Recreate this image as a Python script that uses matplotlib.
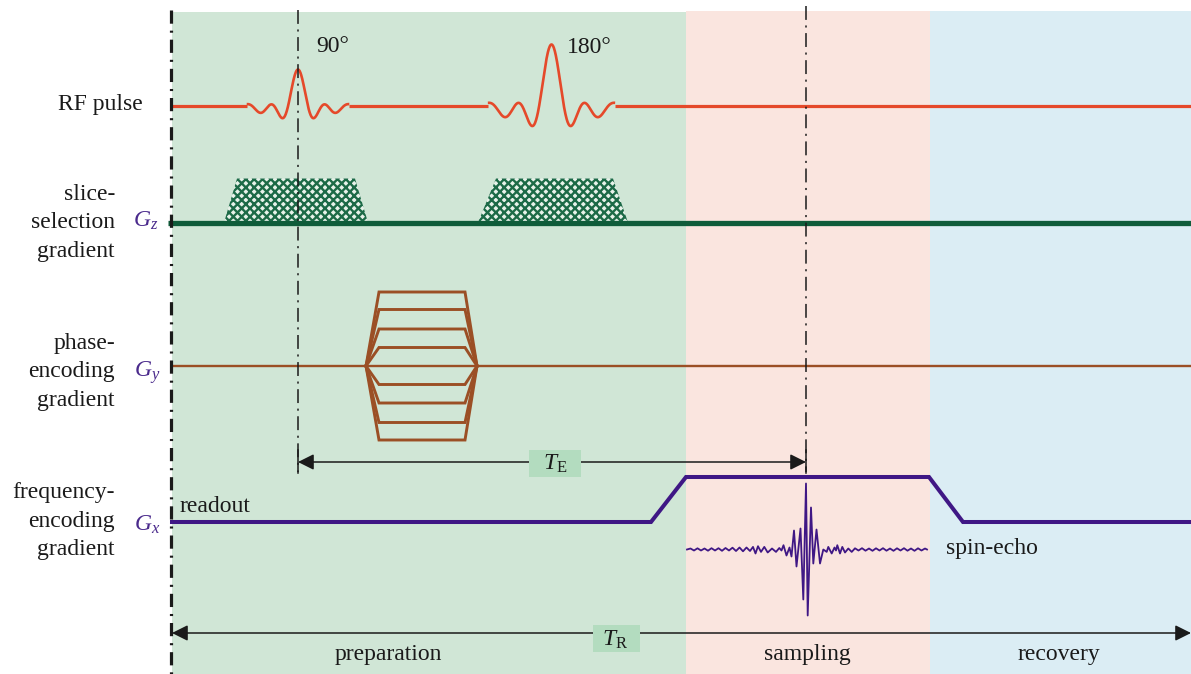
import numpy as np
import matplotlib
matplotlib.use("Agg")
import matplotlib.pyplot as plt
from matplotlib.patches import Rectangle, Polygon

plt.rcParams['font.family'] = ['Liberation Serif', 'DejaVu Serif']
plt.rcParams['mathtext.fontset'] = 'custom'
plt.rcParams['mathtext.rm'] = 'Liberation Serif'
plt.rcParams['mathtext.it'] = 'Liberation Serif:italic'
plt.rcParams['hatch.linewidth'] = 1.7
plt.rcParams['lines.scale_dashes'] = False

# ---------------- data (time axis in drawing units) ----------------
phase_names = ['preparation', 'sampling', 'recovery']
phase_edges = [172, 686, 930, 1191]

rf_angles = ['90°', '180°']
rf_centers = [298, 551.5]
rf_amplitudes = [40, 67]
rf_unit = [10.8, 13.4]
rf_offset = [3.5, 5.5]

slice_tops = [[237, 355], [496, 613]]
slice_bottoms = [[224, 368], [478, 628]]
slice_height = 44

phase_levels = [74, 56.5, 37, 18.5, -18.5, -37, -56.5, -74]
phase_ramp = [366, 379, 465, 477]

freq_t = [172, 651, 686, 929, 963, 1191]
freq_v = [0, 0, 45, 45, 0, 0]

echo_t = [687, 690.5, 694, 697.5, 701, 704.5, 708, 711.5, 715, 718.5, 722, 725.5,
          729, 732.5, 736, 739.5, 743, 746.5, 750, 753, 755.5, 758, 761, 764.3,
          767.7, 772, 776, 779.3, 781.5, 783.5, 786.5, 789.5, 791.5, 794, 796.5,
          800.5, 803.3, 806, 807.7, 811, 813.3, 816.5, 820, 823.3, 826.7, 828.3,
          831.7, 834.5, 836, 837.3, 840, 842.3, 845, 848.3, 851.7, 855, 858.5,
          862, 865.5, 869, 872.5, 876, 879.5, 883, 886.5, 890, 893.5, 897, 900.5,
          904, 907.5, 911, 914.5, 918, 921.5, 925, 927]
echo_v = [0, 1, -1, 1.2, -1, 1, -1.2, 1.3, -1, 1.3, -1.3, 1.5,
          -1, 1.8, -1.5, 2, -1.8, 2, -1.5, 2.6, -4, 3.3, -2.4, 2.6,
          -3, 1, -2.4, 1.5, -1, 4.3, -6, 2, -7, 19, -17,
          21, -50, 66, -66, 42, -14, 20, -14, 0, -2.4, 2.6,
          -4, 2, -1, 4.3, -4, 2.6, -3, 1, -2.4, 1.2, -1,
          1.3, -1.2, 1, -1.3, 1.2, -1, 1.3, -1.2, 1, -1.3, 1.2, -1,
          1.3, -1.2, 1, -1.3, 1.2, -1, 1, 0]

TE_span = [298, 806]
TR_span = [172, 1191]

# ---------------- drawing ----------------
fig = plt.figure(figsize=(11.91, 6.74), dpi=100)
ax = fig.add_axes([0, 0, 1, 1])
ax.set_xlim(0, 1191)
ax.set_ylim(674, 0)
ax.axis('off')

bg_colors = ['#d0e6d6', '#fae5df', '#dbedf4']
bg_top = [12, 11, 11]
for i in range(3):
    ax.add_patch(Rectangle((phase_edges[i], bg_top[i]), phase_edges[i + 1] - phase_edges[i],
                           674 - bg_top[i], facecolor=bg_colors[i], edgecolor='none', zorder=0))

# baselines
y_rf, y_gz, y_gy, y_gx, y_echo = 106, 222.5, 366, 522, 549.5
rf_col, gz_col, gy_col, gx_col = '#e5492a', '#0f5c3a', '#9b4f25', '#3f1785'

# RF pulse
win = 4.75
flat = [phase_edges[0]]
for c, a, u, o in zip(rf_centers, rf_amplitudes, rf_unit, rf_offset):
    t = np.linspace(-win, win, 400)
    x = c + t * u
    y = y_rf - (a * np.sinc(t) - o * (1 - (t / win) ** 8))
    ax.plot(x, y, color=rf_col, lw=1.9, zorder=3, solid_capstyle='butt')
    flat += [c - win * u, c + win * u]
flat.append(phase_edges[-1])
for i in range(0, len(flat), 2):
    ax.plot([flat[i], flat[i + 1]], [y_rf, y_rf], color=rf_col, lw=2.3, zorder=3,
            solid_capstyle='butt')

# slice selection gradient
for (t0, t1), (b0, b1) in zip(slice_tops, slice_bottoms):
    ax.add_patch(Polygon([(b0, y_gz), (t0, y_gz - slice_height), (t1, y_gz - slice_height), (b1, y_gz)],
                         closed=True, facecolor='#e8f2ea', edgecolor='#1c6a47', hatch='xxxx',
                         lw=0, zorder=2))
ax.plot([168, 1191], [y_gz, y_gz], color=gz_col, lw=3.8, zorder=3, solid_capstyle='butt')

# phase encoding gradient
ax.plot([172, 1191], [y_gy, y_gy], color=gy_col, lw=1.7, zorder=3)
for lv in phase_levels:
    ax.plot(phase_ramp, [y_gy, y_gy - lv, y_gy - lv, y_gy], color=gy_col, lw=2.1, zorder=3,
            solid_joinstyle='miter')

# frequency encoding gradient
ax.plot(freq_t, [y_gx - v for v in freq_v], color=gx_col, lw=2.9, zorder=3, solid_joinstyle='miter')

# echo
ax.plot(echo_t, [y_echo - v for v in echo_v], color=gx_col, lw=1.3, zorder=3)

# dash-dot guide lines
ax.plot([171, 171], [10, 674], color='#1a1a1a', lw=2.3, dashes=(9.5, 5, 1.5, 5), zorder=4)
ax.plot([298, 298], [10, 472], color='#1a1a1a', lw=1.1, dashes=(10, 4, 1.5, 4), zorder=4)
ax.plot([806, 806], [6, 472], color='#1a1a1a', lw=1.1, dashes=(10, 4, 1.5, 4), zorder=4)
for xv in TE_span:
    ax.plot([xv, xv], [450, 473], color='#1a1a1a', lw=1.1, zorder=4)

# TE / TR arrows
arr = dict(arrowstyle='<|-|>', color='#1a1a1a', lw=1.1, mutation_scale=24, shrinkA=0, shrinkB=0)
ax.annotate('', xy=(TE_span[1], 462), xytext=(TE_span[0], 462), arrowprops=arr, zorder=4)
ax.annotate('', xy=(TR_span[1], 633), xytext=(TR_span[0], 633), arrowprops=arr, zorder=4)
ax.add_patch(Rectangle((529, 449.5), 52, 27, facecolor='#b3dcbf', edgecolor='none', zorder=5))
ax.add_patch(Rectangle((593, 625), 47, 27, facecolor='#b3dcbf', edgecolor='none', zorder=5))
ax.text(555, 464, r'$T_{\mathrm{E}}$', fontsize=17, ha='center', va='center', zorder=6, color='#1a1a1a')
ax.text(615.5, 639.5, r'$T_{\mathrm{R}}$', fontsize=17, ha='center', va='center', zorder=6, color='#1a1a1a')

# texts
fs = 17
tc = '#1a1a1a'
ax.text(316, 52, rf_angles[0], fontsize=fs, ha='left', va='baseline', color=tc)
ax.text(567, 53, rf_angles[1], fontsize=fs, ha='left', va='baseline', color=tc)
ax.text(143, 110, 'RF pulse', fontsize=fs, ha='right', va='baseline', color=tc)
for lines, y0 in [(['slice-', 'selection', 'gradient'], 200),
                  (['phase-', 'encoding', 'gradient'], 349),
                  (['frequency-', 'encoding', 'gradient'], 498)]:
    for k, s in enumerate(lines):
        ax.text(115, y0 + 28.5 * k, s, fontsize=fs, ha='right', va='baseline', color=tc)
gcol = '#4a2a8c'
ax.text(133, 227, r'$G_z$', fontsize=fs, ha='left', va='baseline', color=gcol)
ax.text(134, 377, r'$G_y$', fontsize=fs, ha='left', va='baseline', color=gcol)
ax.text(134, 531, r'$G_x$', fontsize=fs, ha='left', va='baseline', color=gcol)
ax.text(180, 512, 'readout', fontsize=fs, ha='left', va='baseline', color=tc)
ax.text(946, 554, 'spin-echo', fontsize=fs, ha='left', va='baseline', color=tc)
label_x = [388.5, 807, 1059]
for name, xc in zip(phase_names, label_x):
    ax.text(xc, 660, name, fontsize=fs, ha='center', va='baseline', color=tc)

fig.savefig('out.png', dpi=100)
